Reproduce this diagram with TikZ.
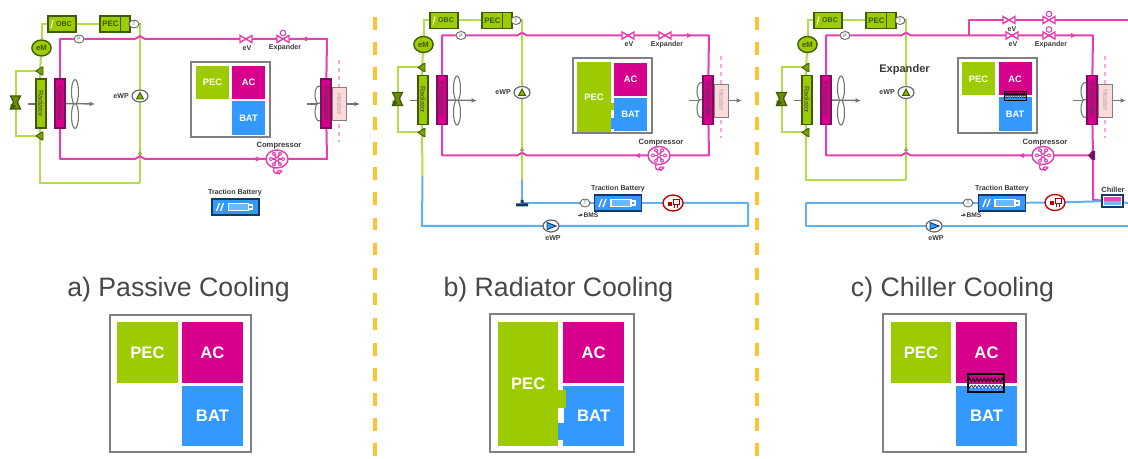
\documentclass[tikz,border=0pt]{standalone}
\usepackage{fontspec}
\setmainfont{Liberation Sans}
\usetikzlibrary{backgrounds,arrows.meta,shapes.geometric}
\definecolor{pecg}{HTML}{9BCB00}
\definecolor{acm}{HTML}{D6008C}
\definecolor{batb}{HTML}{3399FF}
\definecolor{glin}{HTML}{B4DB48}
\definecolor{mlin}{HTML}{E540AE}
\definecolor{blin}{HTML}{5FB2EE}
\definecolor{dgrn}{HTML}{3E5A06}
\definecolor{dmag}{HTML}{7A0F60}
\definecolor{navy}{HTML}{123A66}
\definecolor{orng}{HTML}{FFC233}
\definecolor{txt}{HTML}{3A3A3A}
\tikzset{
  x=0.75pt,y=-0.75pt,
  glinep/.style={draw=glin,line width=1.5pt},
  mlinep/.style={draw=mlin,line width=1.5pt},
  blinep/.style={draw=blin,line width=1.5pt},
  box/.style n args={2}{rectangle,inner sep=0pt,minimum width=#1*0.75pt,minimum height=#2*0.75pt},
  gbox/.style={fill=pecg,draw=dgrn,line width=0.8pt},
  tinylab/.style={font=\bfseries\fontsize{5.3}{6}\selectfont,text=txt,inner sep=0pt},
  comp/.style={font=\fontsize{5.3}{6}\selectfont,text=black!75,rotate=-90,inner sep=0pt},
  sensor/.style={ellipse,draw=black!60,fill=white,line width=0.7pt,inner sep=0pt,minimum width=10*0.75pt,minimum height=8*0.75pt,font=\fontsize{3.6}{4}\selectfont,text=black!70},
  frame/.style={draw=black!50,fill=white,line width=#1},
  tile/.style={rectangle,inner sep=0pt,text=white,font=\bfseries\fontsize{7}{8}\selectfont},
  bigtile/.style={rectangle,inner sep=0pt,text=white,font=\bfseries\fontsize{12.5}{15}\selectfont},
  title/.style={font=\fontsize{20}{24}\selectfont,text=black!72,inner sep=0pt},
  pics/evalve/.style={code={
    \draw[mlinep,fill=white,line width=1.1pt] (-6,-3.5) -- (6,3.5) -- (6,-3.5) -- (-6,3.5) -- cycle;}},
  pics/exphat/.style={code={
    \draw[draw=mlin,fill=white,line width=0.8pt] (0,-6) circle[radius=2.8];}},
  pics/compr/.style={code={
    \draw[mlinep,fill=white,line width=1.1pt] (0,0) ellipse[x radius=11,y radius=9];
    \foreach \a in {0,60,...,300}{\draw[mlin,line width=1.2pt] (0,0) -- (\a:7);
      \fill[mlin] (\a:6) circle[radius=2]; \fill[white] (\a:6) circle[radius=0.8];}
    \fill[white] (0,0) circle[radius=1.2];
    \draw[mlinep,line width=1pt] (-3,9) .. controls (-5,14) and (-1,15) .. (2,14) .. controls (6,13) and (5,11) .. (2,11.5) .. controls (-1,12) and (0,15) .. (3,15);}},
  pics/radvalve/.style={code={
    \fill[draw=dgrn,fill=pecg!80!black,line width=0.7pt] (-4,0) -- (2,-4) -- (3,-4) -- (3,4) -- (2,4) -- cycle;}},
  pics/thermo/.style={code={
    \fill[draw=dgrn,fill=pecg!70!black,line width=0.9pt] (-5,-7) -- (5,-7) -- (2,-1) -- (5,6) -- (-5,6) -- (-2,-1) -- cycle;
    \fill[dgrn] (-5,1) -- (1,3) -- (-5,7) -- cycle;}},
  pics/pump/.style={code={
    \draw[draw=black!60,fill=white,line width=0.9pt] (0,0) ellipse[x radius=8,y radius=6];
    \fill[draw=dgrn,fill=pecg!85!black,line width=0.7pt] (-3.5,3) -- (3.5,3) -- (0,-3.5) -- cycle;}},
  pics/blueump/.style={code={
    \draw[draw=black!60,fill=white,line width=0.9pt] (0,0) ellipse[x radius=8,y radius=6];
    \fill[draw=navy,fill=batb,line width=0.7pt] (-4,-3.5) -- (5,0) -- (-4,3.5) -- cycle;}},
  pics/motor/.style={code={
    \draw[draw=red!75!black,fill=white,line width=1pt] (0,0) ellipse[x radius=10,y radius=8];
    \fill[red!70!black] (-5,-1) rectangle (-1,3);
    \draw[red!65!black,line width=0.7pt] (0,-4) rectangle (6,1);
    \draw[red!65!black,line width=0.7pt] (1,1) -- (1,5) (4,1) -- (4,5);}},
  pics/batart/.style={code={
    \draw[white,line width=1pt] (-19,4) -- (-16,-4) (-15,4) -- (-12,-4);
    \draw[white,line width=1.1pt,fill=batb!70!white] (-7,-3.5) rectangle (13,3.5);
    \draw[white,line width=1.1pt] (13,-2) -- (17,-2) -- (17,2) -- (13,2);}},
  pics/coolbase/.style={code={
    % components
    \node[box={28}{16},gbox] (-obc) at (62,24) {};
    \node[font=\bfseries\fontsize{5.3}{6}\selectfont,text=dgrn] at (64,24) {OBC};
    \draw[white,line width=0.8pt] (51,28) -- (53,20);
    \node[box={30}{16},gbox] (-pec) at (115,24) {};
    \node[font=\bfseries\fontsize{6}{7}\selectfont,text=dgrn] at (110.5,24) {PEC};
    \draw[dgrn,line width=0.7pt] (120,16) -- (120,32);
    \node[sensor] (-t) at (134,24) {T};
    \node[ellipse,fill=pecg,draw=dgrn,line width=1pt,inner sep=0pt,minimum width=14.5pt,minimum height=12pt,font=\bfseries\fontsize{5.8}{6}\selectfont,text=dgrn] (-em) at (41.5,48) {eM};
    \node[sensor] (-p) at (79,39) {P};
    \coordinate (-tv) at (40,71); \pic at (-tv) {radvalve};
    \coordinate (-bv) at (40,136); \pic at (-bv) {radvalve};
    \coordinate (-th) at (15.5,103); \pic at (-th) {thermo};
    \draw[black!55,line width=1pt] (28,104) -- (36,104);
    \draw[black!55,line width=0.8pt,fill=white] (75,92) ellipse[x radius=3.5,y radius=12.5];
    \draw[black!55,line width=0.8pt,fill=white] (75,116) ellipse[x radius=3.5,y radius=12.5];
    \coordinate (-fan) at (75,104);
    \coordinate (-fanend) at (95,104);
    \node[box={10}{49},gbox] (-rad) at (41,103.5) {};
    \node[comp] at (41,103.5) {Radiator};
    \node[box={10}{49},fill=acm,draw=dmag,line width=0.8pt] (-cond) at (60,103.5) {};
    \node[comp] at (60,103.5) {Condenser};
    \coordinate (-ewpc) at (140,96); \pic at (-ewpc) {pump};
    \node[tinylab,anchor=east] (-ewpl) at (129,96) {eWP};
    \coordinate (-ev) at (246,39); \pic at (-ev) {evalve};
    \node[tinylab] (-evl) at (247,48) {eV};
    \coordinate (-exp) at (283,39); \pic at (-exp) {evalve};
    \node[tinylab] (-expl) at (285,48) {Expander};
    \coordinate (-comp) at (277,159); \pic at (-comp) {compr};
    \node[tinylab,font=\bfseries\fontsize{5.7}{6}\selectfont] (-compl) at (279,146) {Compressor};
    % evaporator group
    \draw[mlin!45,dashed,line width=0.8pt] (339,60) -- (339,142);
    \node[box={14}{33},draw=black!50,fill=red!15!white,line width=0.7pt] (-heat) at (339.5,104) {};
    \node[comp,text=black!35] at (339.5,104) {Heater};
    \draw[black!55,line width=0.8pt,fill=white] (319,95) ellipse[x radius=4,y radius=9];
    \draw[black!55,line width=0.8pt,fill=white] (319,112) ellipse[x radius=4,y radius=9];
    \node[box={10}{49},fill=acm,draw=dmag,line width=0.8pt] (-evap) at (326,103.5) {};
    \node[comp] at (326,103.5) {Evaporator};
    \coordinate (-r0) at (307,104);
    \coordinate (-r1) at (360,104);
    % connectors behind the components
    \begin{pgfonlayer}{background}
      \draw[black!55,line width=1pt,-{Latex[length=4pt,width=3.5pt]}] (-cond) -- (-fanend);
      \draw[black!55,line width=1pt,-{Latex[length=4pt,width=3.5pt]}] (-r0) -- (-r1);
      \draw[glinep] (-em) |- (-obc);
      \draw[glinep] (-obc) -- (-pec);
      \draw[glinep] (-pec) -- (-t);
      \draw[glinep] (-t) -| (-ewpc);
      \draw[glinep] (-ewpc) -- (140,183.5);
      \draw[glinep] (-em) -- (-tv);
      \draw[glinep] (-tv) -- (-rad);
      \draw[glinep] (-rad) -- (-bv);
      \draw[glinep] (-tv) -| (-th);
      \draw[glinep] (-th) |- (-bv);
      \draw[mlinep,line join=round] (-cond) |- (-p) -- (135,39) .. controls (138,39) and (138,36) .. (140,36) .. controls (142,36) and (142,39) .. (145,39) -- (-ev) -- (-exp) -- (327,39) -- (-evap);
      \draw[mlinep,line join=round] (-evap) -- (327,159) -- (-comp) -- (145,159) .. controls (142,159) and (142,156) .. (140,156) .. controls (138,156) and (138,159) .. (135,159) -- (60,159) -- (-cond);
    \end{pgfonlayer}
    \fill[glin!80!black] (137.5,154.5) -- (142.5,154.5) -- (140,151) -- cycle;
    \fill[mlin] (305,36.5) -- (310,39) -- (305,41.5) -- cycle;
    \fill[mlin] (258,156.5) -- (253,159) -- (258,161.5) -- cycle;
  }},
}
\newcommand{\wavezone}[5]{% x1 y1 x2 ymid y2
  \pgfmathsetmacro{\wh}{#5-(#2)}
  \pgfmathsetmacro{\wstep}{(#3-(#1))/10}
  \fill[acm] (#1,#2) rectangle (#3,#4);
  \fill[white] (#1,#4) rectangle (#3,{#4+0.2*\wh});
  \fill[batb] (#1,{#4+0.2*\wh}) rectangle (#3,#5);
  \foreach \i in {0,...,9}{
    \draw[black,line width=0.6pt] ({#1+\i*\wstep},{#4-0.11*\wh}) -- ({#1+(\i+0.5)*\wstep},{#4-0.33*\wh}) -- ({#1+(\i+1)*\wstep},{#4-0.11*\wh});
    \draw[navy,line width=0.6pt] ({#1+\i*\wstep},{#4+0.06*\wh}) -- ({#1+(\i+0.5)*\wstep},{#4+0.22*\wh}) -- ({#1+(\i+1)*\wstep},{#4+0.06*\wh});
  }
}
\begin{document}
\begin{tikzpicture}
\useasboundingbox (0,0) rectangle (1128,459);
% separators
\coordinate (sep1t) at (375,17); \coordinate (sep1b) at (375,459);
\coordinate (sep2t) at (757,17); \coordinate (sep2b) at (757,459);
\draw[orng,line width=2.8pt,dash pattern=on 9.5pt off 9.3pt] (sep1t) -- (sep1b);
\draw[orng,line width=2.8pt,dash pattern=on 9.5pt off 9.3pt] (sep2t) -- (sep2b);

% ------- panel a
\pic (a) at (0,0) {coolbase};
\pic at (a-exp) {exphat};
\begin{pgfonlayer}{background}
  \draw[glinep] (a-bv) |- (140,183.5);
\end{pgfonlayer}
\node[box={79}{75},frame=1.5pt] (asys) at (230.5,99.5) {};
\node[tile,minimum width=33*0.75pt,minimum height=33*0.75pt,fill=pecg] (apec) at (212.5,82.5) {PEC};
\node[tile,minimum width=33*0.75pt,minimum height=33*0.75pt,fill=acm] (aac) at (248.5,82.5) {AC};
\node[tile,minimum width=33*0.75pt,minimum height=34*0.75pt,fill=batb] (abat) at (248.5,118) {BAT};
\node[box={47}{16},fill=batb,draw=navy,line width=1.1pt] (abatt) at (235.5,207) {};
\pic at (abatt) {batart};
\node[tinylab] (abattl) at (235,193) {Traction Battery};
\node[title] (atitle) at (178.5,289.5) {a) Passive Cooling};
\node[box={141}{137},frame=2.2pt] (aBig) at (180.5,383.5) {};
\node[bigtile,minimum width=61*0.75pt,minimum height=61*0.75pt,fill=pecg] (aBpec) at (147.5,352.5) {PEC};
\node[bigtile,minimum width=61*0.75pt,minimum height=61*0.75pt,fill=acm] (aBac) at (212.5,352.5) {AC};
\node[bigtile,minimum width=61*0.75pt,minimum height=60*0.75pt,fill=batb] (aBbat) at (212.5,416) {BAT};

% ------- panel b
\pic (b) at (382,-3.5) {coolbase};
\node[box={47}{16},fill=batb,draw=navy,line width=1.1pt] (bbatt) at (618,203) {};
\pic at (bbatt) {batart};
\node[tinylab] (bbattl) at (618,189) {Traction Battery};
\node[sensor] (bt) at (585,203) {T};
\coordinate (btee) at (522,203);
\fill[navy] (516,206.5) rectangle (528,203.5) (520.5,204) -- (523.5,204) -- (523.5,200) -- (520.5,200) -- cycle;
\coordinate (bmot) at (673,203); \pic at (bmot) {motor};
\coordinate (beup) at (551,226); \pic at (beup) {blueump};
\node[tinylab] (bewp) at (553,238) {eWP};
\node[tinylab,font=\bfseries\fontsize{5}{6}\selectfont] (bbms) at (591,215) {BMS};
\coordinate (bbms0) at (578,215);
\draw[black!70,line width=0.5pt,-{Latex[length=2.5pt,width=2.5pt]}] (bbms0) -- (bbms.west);
\coordinate (bc1) at (748,203); \coordinate (bc2) at (748,226); \coordinate (bc3) at (422,226);
\coordinate (bg1) at (522,180); \coordinate (bg2) at (422.5,176);
\begin{pgfonlayer}{background}
  \draw[blinep] (btee) -- (bg1);
  \draw[blinep] (btee) -- (bt);
  \draw[blinep] (bt) -- (bbatt);
  \draw[blinep] (bbatt) -- (bmot);
  \draw[blinep,line join=round] (bmot) -- (bc1) -- (bc2) -- (beup) -- (bc3) -- (bg2);
  \draw[glinep] (b-bv) -- (bg2);
\end{pgfonlayer}
\node[box={79}{75},frame=1.5pt] (bsys) at (612.5,96) {};
\node[tile,minimum width=34*0.75pt,minimum height=70*0.75pt,fill=pecg] (bpec) at (594,97.5) {PEC};
\node[tile,minimum width=33*0.75pt,minimum height=33*0.75pt,fill=acm] (bac) at (630.5,79.5) {AC};
\node[tile,minimum width=33*0.75pt,minimum height=33*0.75pt,fill=batb] (bbat) at (630.5,114.5) {BAT};
\fill[pecg] (611,103) rectangle (614,110);
\fill[white] (611,110) rectangle (614,118);
\fill[batb] (611,118) rectangle (614,129);
\node[title] (btitle) at (558.5,289.5) {b) Radiator Cooling};
\node[box={144}{138},frame=2.2pt] (bBig) at (562,383) {};
\node[bigtile,minimum width=60.5*0.75pt,minimum height=124*0.75pt,fill=pecg] (bBpec) at (528.2,384) {PEC};
\node[bigtile,minimum width=60.5*0.75pt,minimum height=61*0.75pt,fill=acm] (bBac) at (593.7,352.5) {AC};
\node[bigtile,minimum width=60.5*0.75pt,minimum height=60*0.75pt,fill=batb] (bBbat) at (593.7,416) {BAT};
\fill[pecg] (558,390) rectangle (565.5,408);
\fill[white] (558.5,408) rectangle (563.5,423);
\fill[batb] (558,423) rectangle (563.5,440);

% ------- panel c
\pic (c) at (766,-3.5) {coolbase};
\pic at (c-exp) {exphat};
\node[font=\bfseries\fontsize{8.3}{10}\selectfont,text=txt,inner sep=0pt] (cexpl) at (904.5,70) {Expander};
\coordinate (cbr) at (969,35.5); \coordinate (cbr2) at (969,20); \coordinate (cend) at (1128,20);
\coordinate (cev) at (1009,20); \pic at (cev) {evalve};
\coordinate (cex) at (1049,20); \pic at (cex) {evalve}; \pic at (cex) {exphat};
\node[tinylab] (cevl) at (1012,29) {eV};
\coordinate (cdn) at (1093,155.5); \coordinate (cdn2) at (1093,200);
\fill[dmag] (1088,155.5) -- (1092,151) -- (1095,151) -- (1095,160) -- (1092,160) -- cycle;
\node[box={21}{12},draw=navy,fill=white,line width=1pt] (cch) at (1112.5,201) {};
\fill[acm!70!white] (1104,197) rectangle (1121,201);
\fill[batb!70!white] (1104,201) rectangle (1121,205);
\node[tinylab,font=\bfseries\fontsize{5.6}{6}\selectfont] (cchl) at (1113,190) {Chiller};
\node[box={47}{16},fill=batb,draw=navy,line width=1.1pt] (cbatt) at (1002,203) {};
\pic at (cbatt) {batart};
\node[tinylab] (cbattl) at (1002,189) {Traction Battery};
\node[sensor] (ct) at (968,203) {T};
\coordinate (cmot) at (1055,202.5); \pic at (cmot) {motor};
\coordinate (ceup) at (934,226); \pic at (ceup) {blueump};
\node[tinylab] (cewp) at (936,238) {eWP};
\node[tinylab,font=\bfseries\fontsize{5}{6}\selectfont] (cbms) at (974,215) {BMS};
\coordinate (cbms0) at (961,215);
\draw[black!70,line width=0.5pt,-{Latex[length=2.5pt,width=2.5pt]}] (cbms0) -- (cbms.west);
\coordinate (cl1) at (806,203); \coordinate (cl2) at (806,226); \coordinate (cr2) at (1128,226); \coordinate (cr1) at (1128,203);
\begin{pgfonlayer}{background}
  \draw[glinep] (c-bv) |- (906,180);
  \draw[mlinep,line join=round] (cbr) -- (cbr2) -- (cev) -- (cex) -- (cend);
  \draw[mlinep,line join=round] (cdn) -- (cdn2) -- (cch);
  \draw[blinep,line join=round] (ct) -- (cl1) -- (cl2) -- (ceup) -- (cr2);
  \draw[blinep] (ct) -- (cbatt);
  \draw[blinep] (cbatt) -- (cmot);
  \draw[blinep] (cmot) -- (cch);
  \draw[blinep] (cch) -- (cr1);
\end{pgfonlayer}
\node[box={79}{75},frame=1.5pt] (csys) at (997.5,96) {};
\node[tile,minimum width=33*0.75pt,minimum height=33*0.75pt,fill=pecg] (cpec) at (978.5,79) {PEC};
\node[tile,minimum width=33*0.75pt,minimum height=33*0.75pt,fill=acm] (cac) at (1015,79) {AC};
\node[tile,minimum width=33*0.75pt,minimum height=34*0.75pt,fill=batb] (cbat) at (1015,114.5) {BAT};
\wavezone{1004}{91}{1026}{96}{100}
\node[box={22}{9},draw=black,line width=0.7pt] (cart) at (1015,95.5) {};
\node[title] (ctitle) at (952.5,289.5) {c) Chiller Cooling};
\node[box={143}{138},frame=2.2pt] (cBig) at (954.5,383) {};
\node[bigtile,minimum width=60.5*0.75pt,minimum height=61*0.75pt,fill=pecg] (cBpec) at (921,352.5) {PEC};
\node[bigtile,minimum width=60.5*0.75pt,minimum height=61*0.75pt,fill=acm] (cBac) at (986.5,352.5) {AC};
\node[bigtile,minimum width=60.5*0.75pt,minimum height=60*0.75pt,fill=batb] (cBbat) at (986.5,416) {BAT};
\wavezone{968}{374}{1004}{384}{392}
\node[box={36}{18},draw=black,line width=0.9pt] (cBart) at (986,383) {};
\end{tikzpicture}
\end{document}
